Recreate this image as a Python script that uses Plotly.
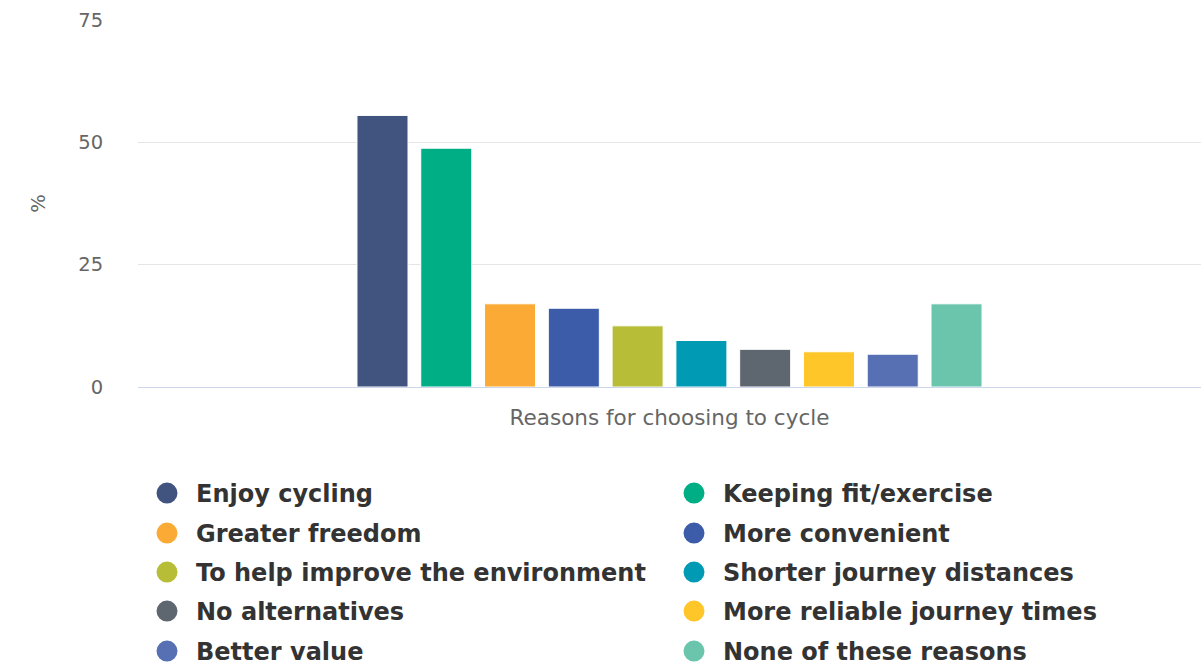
import plotly.graph_objects as go

category = ["Reasons for choosing to cycle"]
series_names = [
    "Enjoy cycling", "Keeping fit/exercise", "Greater freedom", "More convenient",
    "To help improve the environment", "Shorter journey distances", "No alternatives",
    "More reliable journey times", "Better value", "None of these reasons",
]
series_values = [55.5, 48.8, 17.0, 16.1, 12.5, 9.5, 7.7, 7.2, 6.7, 17.0]
series_colors = [
    "#41547F", "#00AE85", "#FBAA36", "#3C5CA9", "#B7BD36",
    "#009AB4", "#5E6770", "#FFC629", "#576FB3", "#6BC5AD",
]
y_ticks = [0, 25, 50, 75]

W, H = 1201, 668
ml, mr, mt, mb = 138, 0, 20, 281
plot_h = H - mt - mb
plot_bottom = mt + plot_h

fig = go.Figure()
for name, val, col in zip(series_names, series_values, series_colors):
    fig.add_trace(go.Bar(
        x=category, y=[val], name=name, marker_color=col,
        marker_line_color="white", marker_line_width=1,
        showlegend=False,
    ))

row_centers = [493, 533, 572, 611, 651]
legend_ids = ["legend", "legend2", "legend3", "legend4", "legend5"]
for i, (name, col) in enumerate(zip(series_names, series_colors)):
    fig.add_trace(go.Scatter(
        x=[None], y=[None], mode="markers", name=name,
        legend=legend_ids[i // 2],
        marker=dict(symbol="circle", size=20, color=col,
                    line=dict(color=col, width=9)),
    ))

legend_font = dict(family="DejaVu Sans", size=24, color="#333333", weight="bold")
legend_layouts = {}
for lid, cy in zip(legend_ids, row_centers):
    top = cy - 22
    legend_layouts[lid] = dict(
        orientation="h", x=0, xanchor="left",
        y=(plot_bottom - top) / plot_h, yanchor="top",
        entrywidth=464, entrywidthmode="pixels",
        itemwidth=48, itemsizing="trace",
        font=legend_font, bgcolor="rgba(0,0,0,0)",
    )

fig.update_layout(
    width=W, height=H,
    margin=dict(l=ml, r=mr, t=mt, b=mb, pad=0, autoexpand=False),
    paper_bgcolor="white", plot_bgcolor="white",
    barmode="group", bargap=0.4, bargroupgap=0.2,
    font=dict(family="DejaVu Sans", color="#666666"),
    showlegend=True,
    **legend_layouts,
    xaxis=dict(
        showgrid=False, showline=True, linecolor="#ccd6eb", linewidth=1,
        ticks="", showticklabels=False,
        title=dict(text="Reasons for choosing to cycle", font=dict(size=21.5, color="#666666"), standoff=22),
    ),
    yaxis=dict(
        range=[0, 75], tickvals=y_ticks, showgrid=True, gridcolor="#e6e6e6", gridwidth=1,
        zeroline=False, showline=False, ticks="outside", ticklen=30, tickcolor="rgba(0,0,0,0)",
        tickfont=dict(size=19.5, color="#666666"),
        title=dict(text="%", font=dict(size=19.5, color="#666666"), standoff=27),
    ),
)
fig.write_html("out.html")
